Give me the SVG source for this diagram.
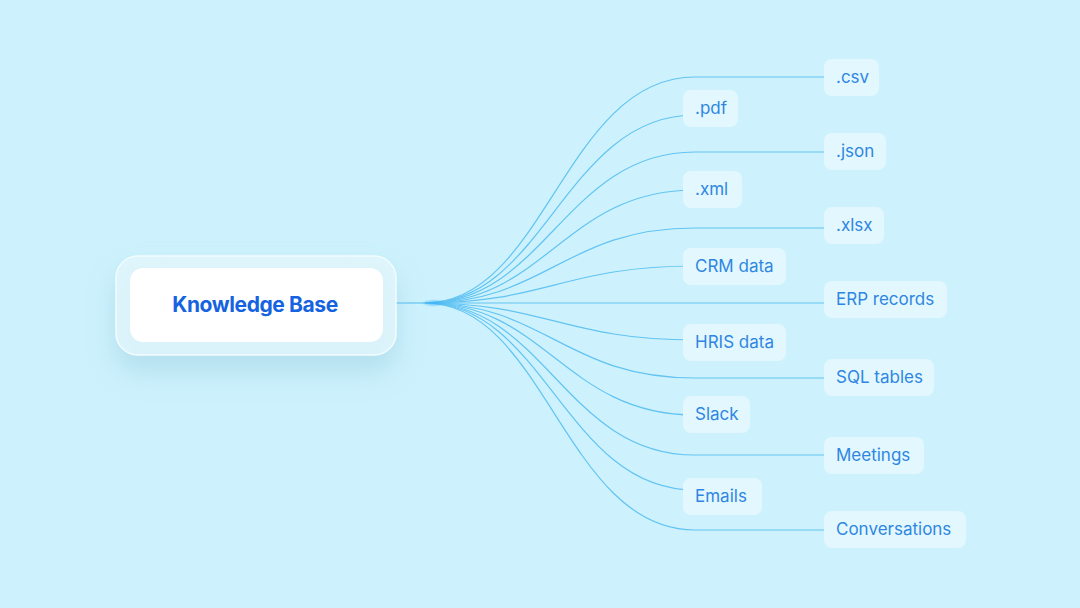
<svg xmlns="http://www.w3.org/2000/svg" width="1080" height="608" viewBox="0 0 1080 608">
  <defs>
    <style>
      .conn { fill: none; stroke: #62c3f2; stroke-width: 1.2; }
      .box { fill: #e2f8fe; }
      .lbl { font-family: Inter, "Noto Sans", "Liberation Sans", sans-serif; font-size: 17px; fill: #2f86e2; }
      .kb { font-family: Inter, "Noto Sans", "Liberation Sans", sans-serif; font-size: 21px; font-weight: 700; fill: #1563e0; letter-spacing: -0.4px; }
    </style>
    <filter id="shadow" x="-30%" y="-50%" width="160%" height="220%">
      <feGaussianBlur in="SourceAlpha" stdDeviation="14"/>
      <feOffset dy="16" result="b"/>
      <feFlood flood-color="#7fb9cc" flood-opacity="0.45"/>
      <feComposite in2="b" operator="in"/>
      <feMerge><feMergeNode/><feMergeNode in="SourceGraphic"/></feMerge>
    </filter>
    <radialGradient id="glow" cx="0.5" cy="0.5" r="0.5">
      <stop offset="0" stop-color="#36aef7" stop-opacity="0.8"/>
      <stop offset="1" stop-color="#36aef7" stop-opacity="0"/>
    </radialGradient>
  </defs>
  <rect width="1080" height="608" fill="#cdf2fd"/>

  <g id="connectors">
    <path class="conn" d="M396 303 H425"/>
    <path class="conn" d="M425 303 C545 303 565 77 695 77 H824"/>
    <path class="conn" d="M425 303 C545 303 565 115 695 115"/>
    <path class="conn" d="M425 303 C545 303 565 152 695 152 H824"/>
    <path class="conn" d="M425 303 C545 303 565 190 695 190"/>
    <path class="conn" d="M425 303 C545 303 565 228 695 228 H824"/>
    <path class="conn" d="M425 303 C545 303 565 266 695 266"/>
    <path class="conn" d="M425 303 H824"/>
    <path class="conn" d="M425 303 C545 303 565 340 695 340"/>
    <path class="conn" d="M425 303 C545 303 565 378 695 378 H824"/>
    <path class="conn" d="M425 303 C545 303 565 415 695 415"/>
    <path class="conn" d="M425 303 C545 303 565 455 695 455 H824"/>
    <path class="conn" d="M425 303 C545 303 565 490 695 490"/>
    <path class="conn" d="M425 303 C545 303 565 530 695 530 H824"/>
    <ellipse cx="434" cy="303" rx="13" ry="4" fill="url(#glow)"/>
  </g>

  <g id="knowledge-base">
    <rect x="116" y="256" width="280" height="99" rx="22" fill="#e4f7fc" fill-opacity="0.75" stroke="#f2fcff" stroke-width="1.5" filter="url(#shadow)"/>
    <rect x="130" y="268" width="253" height="74" rx="13" fill="#ffffff"/>
    <text class="kb" x="255" y="312" text-anchor="middle">Knowledge Base</text>
  </g>

  <g id="csv"><rect class="box" x="824" y="59" width="55" height="37" rx="8"/><text class="lbl" x="836" y="83">.csv</text></g>
  <g id="pdf"><rect class="box" x="683" y="90" width="55" height="37" rx="8"/><text class="lbl" x="695" y="114">.pdf</text></g>
  <g id="json"><rect class="box" x="824" y="133" width="62" height="37" rx="8"/><text class="lbl" x="836" y="157">.json</text></g>
  <g id="xml"><rect class="box" x="683" y="171" width="59" height="37" rx="8"/><text class="lbl" x="695" y="195">.xml</text></g>
  <g id="xlsx"><rect class="box" x="824" y="207" width="60" height="37" rx="8"/><text class="lbl" x="836" y="231">.xlsx</text></g>
  <g id="crm"><rect class="box" x="683" y="248" width="103" height="37" rx="8"/><text class="lbl" x="695" y="272">CRM data</text></g>
  <g id="erp"><rect class="box" x="824" y="281" width="123" height="37" rx="8"/><text class="lbl" x="836" y="305">ERP records</text></g>
  <g id="hris"><rect class="box" x="683" y="324" width="103" height="37" rx="8"/><text class="lbl" x="695" y="348">HRIS data</text></g>
  <g id="sql"><rect class="box" x="824" y="359" width="110" height="37" rx="8"/><text class="lbl" x="836" y="383">SQL tables</text></g>
  <g id="slack"><rect class="box" x="683" y="396" width="67" height="37" rx="8"/><text class="lbl" x="695" y="420">Slack</text></g>
  <g id="meetings"><rect class="box" x="824" y="437" width="100" height="37" rx="8"/><text class="lbl" x="836" y="461">Meetings</text></g>
  <g id="emails"><rect class="box" x="683" y="478" width="79" height="37" rx="8"/><text class="lbl" x="695" y="502">Emails</text></g>
  <g id="conversations"><rect class="box" x="824" y="511" width="142" height="37" rx="8"/><text class="lbl" x="836" y="535">Conversations</text></g>
</svg>
